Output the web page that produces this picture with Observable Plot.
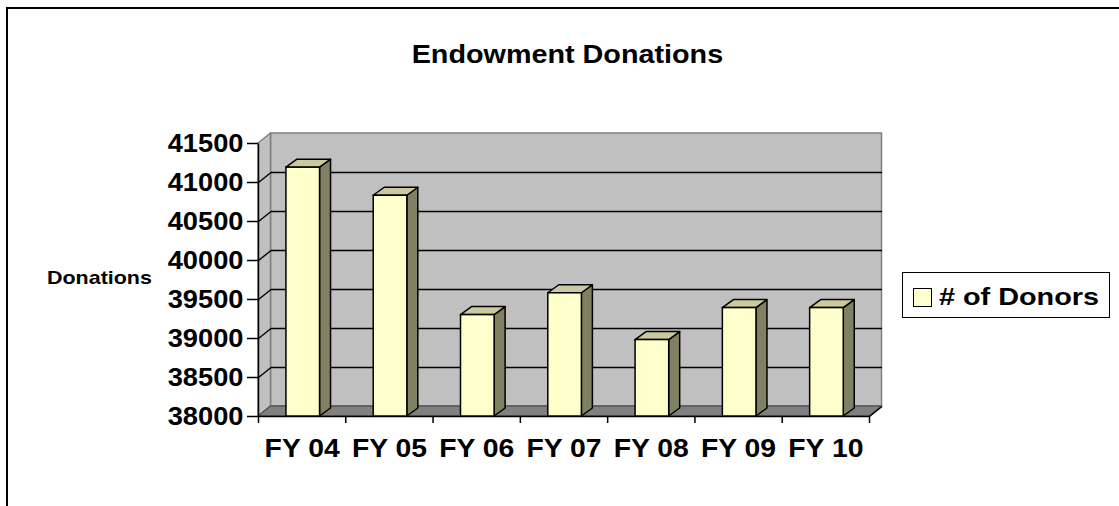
<!DOCTYPE html>
<html>
<head>
<meta charset="utf-8">
<script src="https://cdn.jsdelivr.net/npm/d3@7"></script>
<script src="https://cdn.jsdelivr.net/npm/@observablehq/plot@0.6"></script>
<style>
html,body{margin:0;padding:0;background:#fff;overflow:hidden}
#wrap{position:relative;width:1119px;height:506px;font-family:"Liberation Sans",Arial,sans-serif;font-weight:bold;color:#000;overflow:hidden}
#wrap svg{position:absolute;left:0;top:0}
.abs{position:absolute;white-space:nowrap;line-height:1}
.abs span{display:inline-block}
#frame{position:absolute;left:6px;top:7px;width:1200px;height:600px;border:2px solid #000}
#title{left:267px;width:600px;top:42px;font-size:25px;text-align:center}
#title span{transform:scaleX(1.15)}
#ylab{left:0;width:198px;top:268px;font-size:19px;text-align:center}
#ylab span{transform:scaleX(1.13)}
#legend{position:absolute;left:902px;top:272px;width:208px;height:46px;box-sizing:border-box;border:1.5px solid #000;background:#fff}
#sw{position:absolute;left:913px;top:288px;width:19px;height:19px;box-sizing:border-box;border:1px solid #000;background:#FFFFCC}
#ltext{left:939px;top:285px;font-size:24px}
#ltext span{transform:scaleX(1.2);transform-origin:left center}
</style>
</head>
<body>
<div id="wrap">
  <div id="frame"></div>
  <div id="title" class="abs"><span>Endowment Donations</span></div>
  <div id="ylab" class="abs"><span>Donations</span></div>
  <div id="legend"></div>
  <div id="sw"></div>
  <div id="ltext" class="abs"><span># of Donors</span></div>
</div>
<script>
// ---- data ----
const categories = ["FY 04", "FY 05", "FY 06", "FY 07", "FY 08", "FY 09", "FY 10"];
const donors = [41190, 40830, 39300, 39580, 38980, 39390, 39390];
const yTicks = [38000, 38500, 39000, 39500, 40000, 40500, 41000, 41500];
const seriesName = "# of Donors";

// ---- layout ----
const W = 1119, H = 506;
const mL = 258, mR = 250, mT = 143, mB = 90;
const plotW = W - mL - mR, plotH = H - mT - mB;
const yMin = yTicks[0], yMax = yTicks[yTicks.length - 1];
const n = categories.length;
const kx = n / plotW, ky = (yMax - yMin) / plotH;       // data units per pixel
const wallDx = 12.5 * kx, wallDy = 10 * ky;              // wall depth
const barDx = 11 * kx, barDy = 8 * ky;                   // bar depth
const barLeft = 0.32, barWidth = 0.385;                  // within a category band

const bars = categories.map((c, i) => ({i, cat: c, v: donors[i], x1: i + barLeft, x2: i + barLeft + barWidth}));
const sidePts = bars.flatMap(b => [
  {id: b.i, x: b.x2, y1: yMin, y2: b.v},
  {id: b.i, x: b.x2 + barDx, y1: yMin + barDy, y2: b.v + barDy}
]);
const topPts = bars.flatMap(b => [
  {id: b.i, y: b.v, x1: b.x1, x2: b.x2},
  {id: b.i, y: b.v + barDy, x1: b.x1 + barDx, x2: b.x2 + barDx}
]);
const leftWall = [
  {x: 0, y1: yMin, y2: yMax},
  {x: wallDx, y1: yMin + wallDy, y2: yMax + wallDy}
];
const backWall = [{x1: wallDx, x2: n + wallDx, y1: yMin + wallDy, y2: yMax + wallDy}];
const floor = [
  {y: yMin, x1: 0, x2: n},
  {y: yMin + wallDy, x1: wallDx, x2: n + wallDx}
];
const inner = yTicks.slice(1, -1);

const chart = Plot.plot({
  width: W, height: H,
  marginLeft: mL, marginRight: mR, marginTop: mT, marginBottom: mB,
  x: {domain: [0, n]},
  y: {domain: [yMin, yMax]},
  style: {fontFamily: "'Liberation Sans', Arial, sans-serif", fontWeight: "bold", color: "#000", background: "transparent"},
  marks: [
    Plot.rect(backWall, {x1: "x1", x2: "x2", y1: "y1", y2: "y2", fill: "#C0C0C0", stroke: "#808080", strokeWidth: 1.5}),
    Plot.areaY(leftWall, {x: "x", y1: "y1", y2: "y2", fill: "#C0C0C0", stroke: "#808080", strokeWidth: 1.5}),
    Plot.areaX(floor, {y: "y", x1: "x1", x2: "x2", fill: "#808080", stroke: "#555", strokeWidth: 1.5}),
    // gridlines: left wall diagonals + back wall horizontals
    Plot.link(inner, {x1: () => 0, y1: d => d, x2: () => wallDx, y2: d => d + wallDy, stroke: "#000", strokeWidth: 1.5}),
    Plot.link(inner, {x1: () => wallDx, y1: d => d + wallDy, x2: () => n + wallDx, y2: d => d + wallDy, stroke: "#000", strokeWidth: 1.5}),
    // axis lines
    Plot.link([0], {x1: () => 0, y1: () => yMin, x2: () => 0, y2: () => yMax, stroke: "#000", strokeWidth: 1.5}),
    Plot.link([0], {x1: () => 0, y1: () => yMin, x2: () => n, y2: () => yMin, stroke: "#000", strokeWidth: 1.5}),
    Plot.link([0], {x1: () => n, y1: () => yMin, x2: () => n + wallDx, y2: () => yMin + wallDy, stroke: "#000", strokeWidth: 1.5}),
    // bars
    Plot.areaY(sidePts, {x: "x", y1: "y1", y2: "y2", z: "id", fill: "#808062", stroke: "#000", strokeWidth: 1.5}),
    Plot.areaX(topPts, {y: "y", x1: "x1", x2: "x2", z: "id", fill: "#CACA9E", stroke: "#000", strokeWidth: 1.5}),
    Plot.rect(bars, {x1: "x1", x2: "x2", y1: () => yMin, y2: "v", fill: "#FFFFCC", stroke: "#000", strokeWidth: 1.5, title: d => `${d.cat}: ${d.v}`}),
    // axes
    Plot.axisY(yTicks, {tickSize: 11, tickPadding: 4, fontSize: 25, fontWeight: "bold", tickFormat: d => String(d), strokeWidth: 1.5, label: null}),
    Plot.axisX(d3.range(n + 1), {tickSize: 7, tickFormat: () => "", strokeWidth: 1.5, label: null}),
    Plot.axisX(bars.map(b => b.i + 0.5), {tickSize: 0, tickPadding: 22, fontSize: 26, fontWeight: "bold", tickFormat: d => categories[Math.floor(d)], label: null})
  ]
});
document.getElementById("wrap").appendChild(chart);

// widen glyphs slightly to match the reference rendering
chart.querySelectorAll("text").forEach(t => {
  if (t.querySelector("tspan")) return;
  const len = t.getComputedTextLength();
  if (len > 0) {
    t.setAttribute("textLength", (len * 1.09).toFixed(1));
    t.setAttribute("lengthAdjust", "spacingAndGlyphs");
  }
});
</script>
</body>
</html>
